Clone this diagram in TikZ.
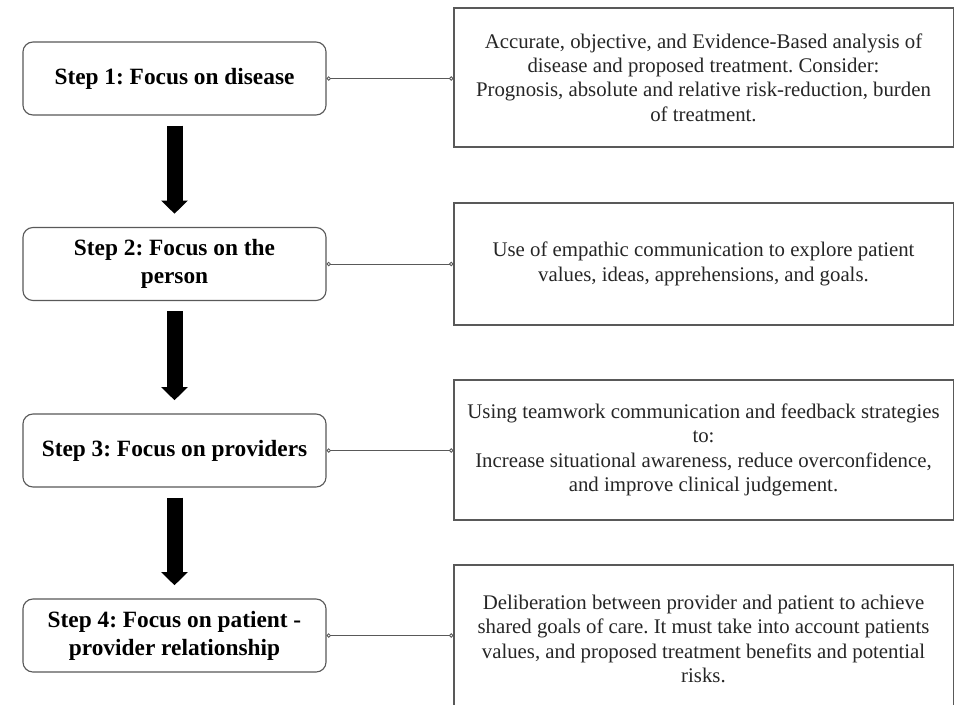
\documentclass[tikz,border=0pt]{standalone}
\usepackage{fontspec}
\setmainfont{Liberation Serif}
\usepackage{tikz}
\usetikzlibrary{arrows.meta,calc,positioning}
\frenchspacing

\begin{document}
\begin{tikzpicture}[
  x=0.025cm,y=-0.025cm,
  stepbox/.style={draw=black!65,line width=0.8pt,rounded corners=0.25cm,fill=white,
    minimum width=7.575cm,minimum height=1.825cm,align=center,inner sep=2pt,
    font=\fontsize{16.6}{20}\selectfont\bfseries},
  detail/.style={draw=black!65,line width=0.8pt,fill=white,
    minimum width=12.475cm,align=center,inner sep=2pt,
    font=\fontsize{14.8}{17.3}\selectfont\color{black!85}},
  link/.style={draw=black!65,line width=0.6pt,
    {Circle[open,length=3pt,width=3pt]}-{Circle[open,length=3pt,width=3pt]}},
  flow/.style={line width=0.4cm,-{Triangle[length=0.33cm,width=0.65cm]}}
]
  \clip (0,0) rectangle (959,704);
  \fill[white] (0,0) rectangle (959,704);

  % steps on the left
  \node[stepbox] (s1) at (174.5,78.5) {Step 1: Focus on disease};
  \node[stepbox] (s2) at (174.5,264) {Step 2: Focus on the\\person};
  \node[stepbox] (s3) at (174.5,450.5) {Step 3: Focus on providers};
  \node[stepbox] (s4) at (174.5,635.5) {Step 4: Focus on patient -\\provider relationship};

  % descriptions on the right
  \node[detail,minimum height=3.475cm] (d1) at (703.5,77.5)
    {Accurate, objective, and Evidence-Based analysis of\\
     disease and proposed treatment. Consider:\\
     Prognosis, absolute and relative risk-reduction, burden\\
     of treatment.};
  \node[detail,minimum height=3.05cm] (d2) at (703.5,264)
    {Use of empathic communication to explore patient\\
     values, ideas, apprehensions, and goals.};
  \node[detail,minimum height=3.5cm] (d3) at (703.5,450)
    {Using teamwork communication and feedback strategies\\
     to:\\
     Increase situational awareness, reduce overconfidence,\\
     and improve clinical judgement.};
  \node[detail,minimum height=3.7cm] (d4) at (703.5,639)
    {Deliberation between provider and patient to achieve\\
     shared goals of care. It must take into account patients\\
     values, and proposed treatment benefits and potential\\
     risks.};

  \foreach \i in {1,...,4}
    \draw[link] (s\i.east) -- (s\i.east -| d\i.west);

  \foreach \i/\j in {1/2,2/3,3/4}
    \draw[flow,shorten <=0.25cm,shorten >=0.33cm] (s\i.south) -- (s\j.north);
\end{tikzpicture}
\end{document}
